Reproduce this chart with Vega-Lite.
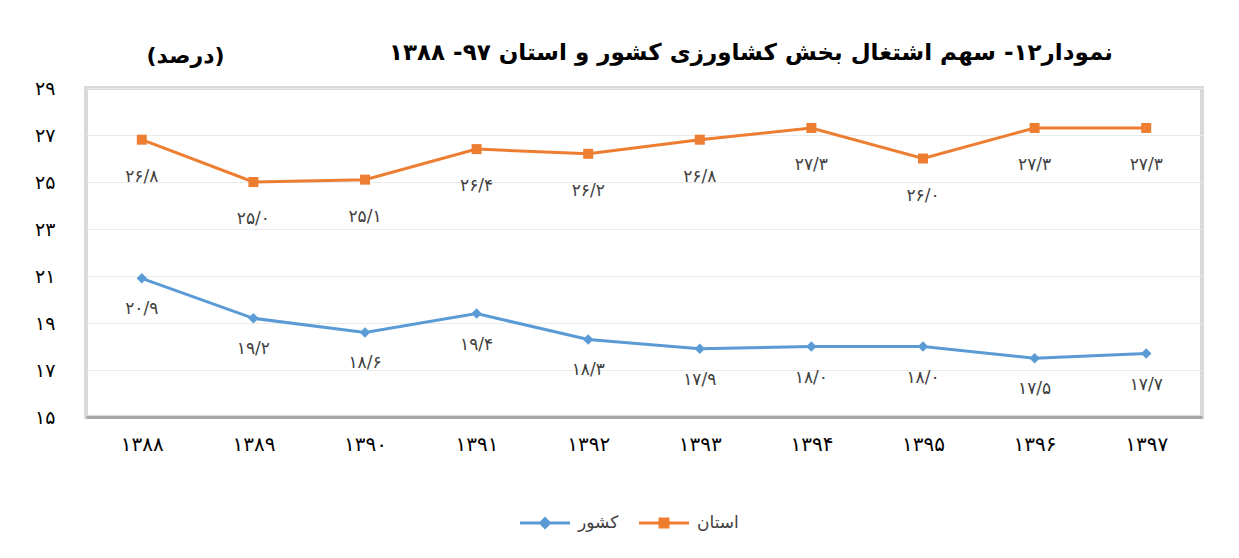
{
  "$schema": "https://vega.github.io/schema/vega-lite/v6.json",
  "width": 1116,
  "height": 329,
  "autosize": {"type": "none"},
  "padding": {"left": 86, "top": 88, "right": 37, "bottom": 141},
  "background": "#ffffff",
  "config": {
    "font": "DejaVu Sans",
    "locale": {
      "number": {
        "decimal": "/",
        "thousands": ",",
        "grouping": [3],
        "currency": ["", ""],
        "numerals": ["۰", "۱", "۲", "۳", "۴", "۵", "۶", "۷", "۸", "۹"]
      }
    },
    "view": {"stroke": "#d9d9d9", "strokeWidth": 4}
  },
  "title": {
    "text": "نمودار۱۲- سهم اشتغال بخش کشاورزی کشور و استان ۹۷- ۱۳۸۸",
    "anchor": "end",
    "frame": "group",
    "dx": -89,
    "dy": 66,
    "offset": 22,
    "baseline": "bottom",
    "fontSize": 23,
    "fontWeight": "bold",
    "color": "#000000"
  },
  "data": {
    "values": [
      {"year": "۱۳۸۸", "series": "استان", "value": 26.8},
      {"year": "۱۳۸۹", "series": "استان", "value": 25.0},
      {"year": "۱۳۹۰", "series": "استان", "value": 25.1},
      {"year": "۱۳۹۱", "series": "استان", "value": 26.4},
      {"year": "۱۳۹۲", "series": "استان", "value": 26.2},
      {"year": "۱۳۹۳", "series": "استان", "value": 26.8},
      {"year": "۱۳۹۴", "series": "استان", "value": 27.3},
      {"year": "۱۳۹۵", "series": "استان", "value": 26.0},
      {"year": "۱۳۹۶", "series": "استان", "value": 27.3},
      {"year": "۱۳۹۷", "series": "استان", "value": 27.3},
      {"year": "۱۳۸۸", "series": "کشور", "value": 20.9},
      {"year": "۱۳۸۹", "series": "کشور", "value": 19.2},
      {"year": "۱۳۹۰", "series": "کشور", "value": 18.6},
      {"year": "۱۳۹۱", "series": "کشور", "value": 19.4},
      {"year": "۱۳۹۲", "series": "کشور", "value": 18.3},
      {"year": "۱۳۹۳", "series": "کشور", "value": 17.9},
      {"year": "۱۳۹۴", "series": "کشور", "value": 18.0},
      {"year": "۱۳۹۵", "series": "کشور", "value": 18.0},
      {"year": "۱۳۹۶", "series": "کشور", "value": 17.5},
      {"year": "۱۳۹۷", "series": "کشور", "value": 17.7}
    ]
  },
  "encoding": {
    "x": {
      "field": "year",
      "type": "ordinal",
      "sort": null,
      "scale": {"type": "point", "padding": 0.5},
      "axis": {
        "title": null,
        "labelAngle": 0,
        "labelFontSize": 20,
        "labelColor": "#000000",
        "labelPadding": 17,
        "ticks": false,
        "domain": true,
        "domainColor": "#a6a6a6",
        "domainWidth": 3,
        "grid": false
      }
    },
    "y": {
      "field": "value",
      "type": "quantitative",
      "scale": {"domain": [15, 29], "nice": false, "zero": false},
      "axis": {
        "title": "(درصد)",
        "titleAngle": 0,
        "titleX": 99,
        "titleY": -33,
        "titleAlign": "center",
        "titleBaseline": "middle",
        "titleFontSize": 22,
        "titleFontWeight": "bold",
        "titleColor": "#000000",
        "values": [15, 17, 19, 21, 23, 25, 27, 29],
        "format": "d",
        "labelFontSize": 19,
        "labelColor": "#000000",
        "labelPadding": 31,
        "ticks": false,
        "domain": false,
        "grid": true,
        "gridColor": "#ebebeb",
        "gridWidth": 1
      }
    }
  },
  "layer": [
    {
      "mark": {"type": "line", "strokeWidth": 3},
      "encoding": {
        "color": {
          "field": "series",
          "type": "nominal",
          "scale": {"domain": ["کشور", "استان"], "range": ["#5B9BD5", "#ED7D31"]},
          "legend": {
            "title": null,
            "orient": "none",
            "direction": "horizontal",
            "legendX": 434,
            "legendY": 410,
            "symbolSize": 2500,
            "symbolStrokeWidth": 0,
            "labelFontSize": 17,
            "labelColor": "#404040",
            "labelOffset": 8,
            "columnPadding": 20,
            "encode": {
              "symbols": {
                "update": {
                  "shape": {"signal": "datum.value === 'کشور' ? 'M-1,-0.06H1V0.06H-1Z M0,-0.26L0.26,0L0,0.26L-0.26,0Z' : 'M-1,-0.06H1V0.06H-1Z M-0.22,-0.22H0.22V0.22H-0.22Z'"},
                  "fill": {"signal": "datum.value === 'کشور' ? '#5B9BD5' : '#ED7D31'"},
                  "stroke": {"value": "transparent"},
                  "strokeWidth": {"value": 0}
                }
              }
            }
          }
        }
      }
    },
    {
      "transform": [{"filter": "datum.series === 'کشور'"}],
      "mark": {"type": "point", "filled": true, "opacity": 1, "shape": "diamond", "size": 110, "color": "#5B9BD5"}
    },
    {
      "transform": [{"filter": "datum.series === 'استان'"}],
      "mark": {"type": "point", "filled": true, "opacity": 1, "shape": "square", "size": 100, "color": "#ED7D31"}
    },
    {
      "transform": [{"filter": "datum.series === 'استان'"}],
      "mark": {"type": "text", "dy": 37, "fontSize": 17, "color": "#404040"},
      "encoding": {
        "text": {"field": "value", "type": "quantitative", "format": ".1f"}
      }
    },
    {
      "transform": [{"filter": "datum.series === 'کشور'"}],
      "mark": {"type": "text", "dy": 31, "fontSize": 17, "color": "#404040"},
      "encoding": {
        "text": {"field": "value", "type": "quantitative", "format": ".1f"}
      }
    }
  ]
}
